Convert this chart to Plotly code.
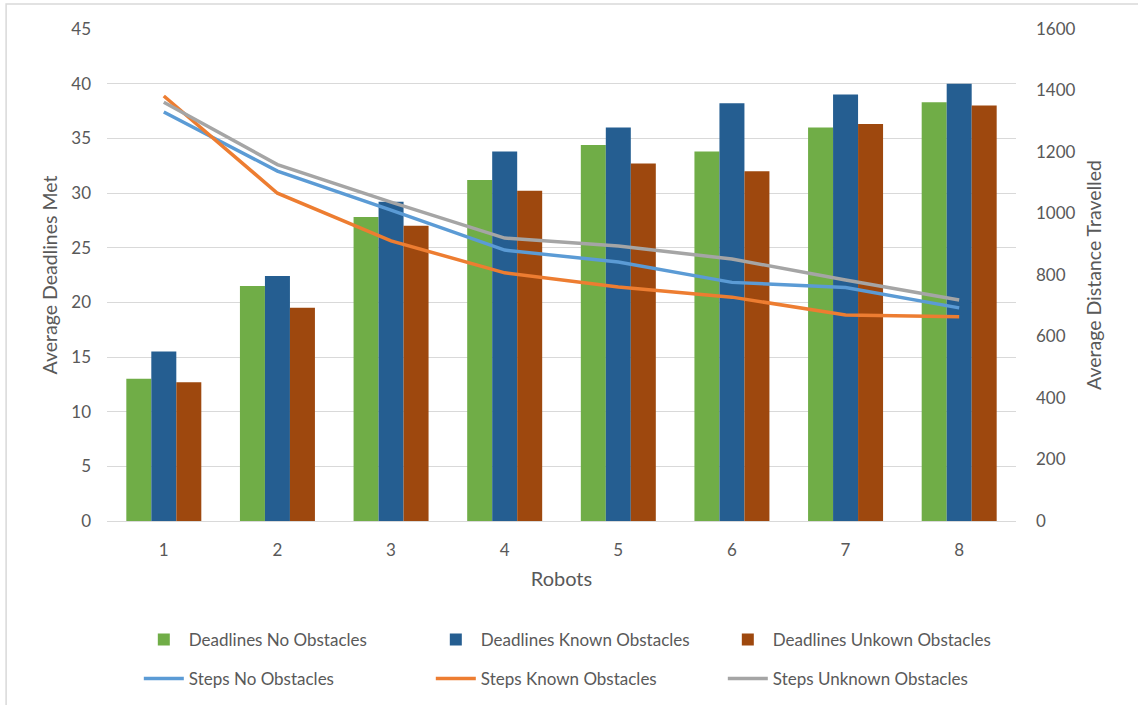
import plotly.graph_objects as go

robots = ["1", "2", "3", "4", "5", "6", "7", "8"]

deadlines_no_obstacles = [13.0, 21.5, 27.8, 31.2, 34.4, 33.8, 36.0, 38.3]
deadlines_known_obstacles = [15.5, 22.4, 29.2, 33.8, 36.0, 38.2, 39.0, 40.0]
deadlines_unknown_obstacles = [12.7, 19.5, 27.0, 30.2, 32.7, 32.0, 36.3, 38.0]

steps_no_obstacles = [1330, 1138, 1011, 881, 842, 776, 759, 693]
steps_known_obstacles = [1382, 1066, 911, 807, 761, 728, 670, 664]
steps_unknown_obstacles = [1362, 1159, 1037, 920, 894, 852, 784, 719]

FONT = "Lato"
TEXT = "#595959"

fig = go.Figure()

bar_series = [
    ("Deadlines No Obstacles", deadlines_no_obstacles, "#70AD47"),
    ("Deadlines Known Obstacles", deadlines_known_obstacles, "#255E91"),
    ("Deadlines Unkown Obstacles", deadlines_unknown_obstacles, "#9E480E"),
]
for name, vals, color in bar_series:
    fig.add_trace(go.Bar(
        x=robots, y=vals, name=name, marker=dict(color=color, line=dict(width=0)),
        yaxis="y", legend="legend",
    ))

line_series = [
    ("Steps No Obstacles", steps_no_obstacles, "#5B9BD5"),
    ("Steps Known Obstacles", steps_known_obstacles, "#ED7D31"),
    ("Steps Unknown Obstacles", steps_unknown_obstacles, "#A5A5A5"),
]
for name, vals, color in line_series:
    fig.add_trace(go.Scatter(
        x=robots, y=vals, name=name, mode="lines",
        line=dict(color=color, width=3.5),
        yaxis="y2", legend="legend2",
    ))

legend_style = dict(
    orientation="h", xanchor="left", yanchor="middle", x=0.035,
    entrywidth=237, entrywidthmode="pixels", itemwidth=40,
    font=dict(family=FONT, size=17, color=TEXT), bgcolor="rgba(0,0,0,0)",
)

fig.update_layout(
    width=1138, height=705,
    margin=dict(l=107, r=122, t=29, b=184, autoexpand=False),
    paper_bgcolor="white", plot_bgcolor="white",
    font=dict(family=FONT, color=TEXT, size=17),
    barmode="group", bargap=0.34, bargroupgap=0,
    showlegend=True,
    legend=dict(legend_style, y=-0.242),
    legend2=dict(legend_style, y=-0.321),
    xaxis=dict(
        title=dict(text="Robots", font=dict(size=20, color=TEXT), standoff=12),
        showgrid=False, showline=True, linecolor="#d9d9d9", linewidth=1,
        ticks="", ticklabelstandoff=14, tickfont=dict(size=17, color=TEXT),
    ),
    yaxis=dict(
        title=dict(text="Average Deadlines Met", font=dict(size=19.5, color=TEXT), standoff=8),
        range=[0, 45], dtick=5, showgrid=True, gridcolor="#d9d9d9", gridwidth=1,
        zeroline=False, showline=False, ticks="", ticklabelstandoff=15,
        tickfont=dict(size=17, color=TEXT),
    ),
    yaxis2=dict(
        title=dict(text="Average Distance Travelled", font=dict(size=19.5, color=TEXT), standoff=12),
        overlaying="y", side="right", range=[0, 1600], dtick=200,
        showgrid=False, zeroline=False, showline=False, ticks="",
        ticklabelstandoff=19, tickfont=dict(size=17, color=TEXT),
    ),
    shapes=[
        dict(type="rect", xref="paper", yref="paper",
             x0=-0.111, x1=1.2, y0=-0.45, y1=1.0508,
             line=dict(color="#d9d9d9", width=1.5), fillcolor="rgba(0,0,0,0)", layer="below"),
    ],
)

fig.write_html("out.html")
